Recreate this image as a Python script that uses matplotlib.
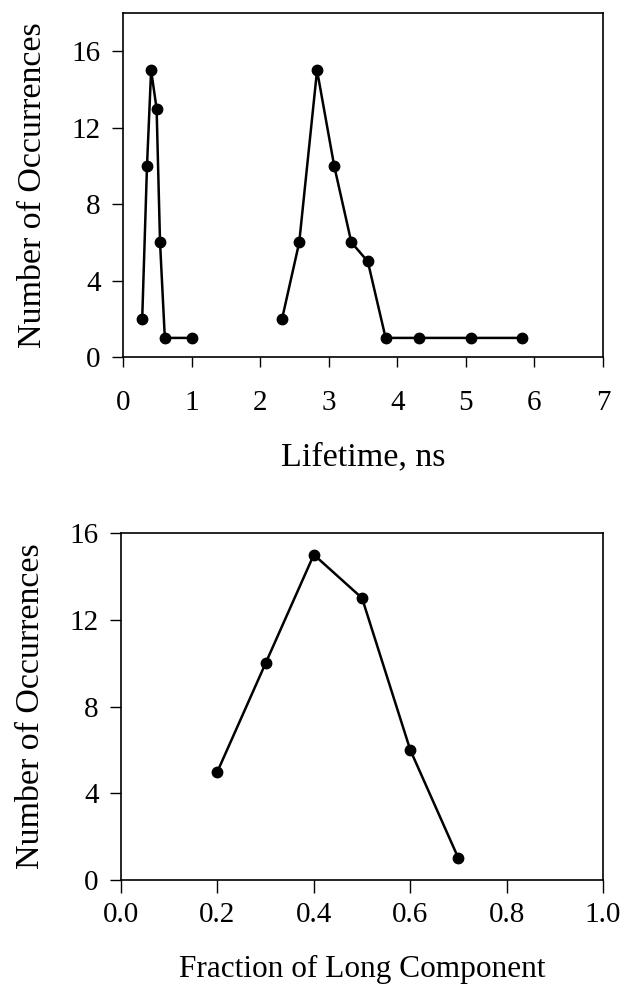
import matplotlib
matplotlib.use("Agg")
import matplotlib.pyplot as plt

plt.rcParams['font.family'] = ['Liberation Serif', 'DejaVu Serif']

# lifetime distribution, short and long components
short_life = [0.28, 0.35, 0.41, 0.49, 0.54, 0.61, 1.01]
short_count = [2, 10, 15, 13, 6, 1, 1]
long_life = [2.32, 2.57, 2.83, 3.08, 3.33, 3.57, 3.83, 4.32, 5.07, 5.82]
long_count = [2, 6, 15, 10, 6, 5, 1, 1, 1, 1]

# fraction of long component
fraction = [0.2, 0.3, 0.4, 0.5, 0.6, 0.7]
frac_count = [5, 10, 15, 13, 6, 1]

fig = plt.figure(figsize=(6.36, 9.92), dpi=100)
ax1 = fig.add_axes([0.1934, 0.6401, 0.7547, 0.3468])
ax2 = fig.add_axes([0.1903, 0.1129, 0.7579, 0.3498])

style = dict(color='black', lw=1.8, marker='o', markersize=7.5)

ax1.plot(short_life, short_count, **style)
ax1.plot(long_life, long_count, **style)
ax1.set_xlim(0, 7)
ax1.set_ylim(0, 18)
ax1.set_xticks(range(0, 8))
ax1.set_yticks([0, 4, 8, 12, 16])
ax1.set_xlabel("Lifetime, ns", fontsize=24.5, labelpad=18)
ax1.set_ylabel("Number of Occurrences", fontsize=24.5, labelpad=17)

ax2.plot(fraction, frac_count, **style)
ax2.set_xlim(0, 1)
ax2.set_ylim(0, 16)
ax2.set_xticks([0.0, 0.2, 0.4, 0.6, 0.8, 1.0])
ax2.set_xticklabels(["0.0", "0.2", "0.4", "0.6", "0.8", "1.0"])
ax2.set_yticks([0, 4, 8, 12, 16])
ax2.set_xlabel("Fraction of Long Component", fontsize=22.5, labelpad=19)
ax2.set_ylabel("Number of Occurrences", fontsize=24.5, labelpad=17)

for ax in (ax1, ax2):
    for sp in ax.spines.values():
        sp.set_linewidth(1.2)
    ax.tick_params(axis='y', direction='out', length=8, width=1.0,
                   labelsize=21, pad=8)
ax1.tick_params(axis='x', direction='out', length=7, width=1.0,
                labelsize=21, pad=17)
ax2.tick_params(axis='x', direction='out', length=9, width=1.0,
                labelsize=21, pad=7)

fig.savefig("out.png", dpi=100)
